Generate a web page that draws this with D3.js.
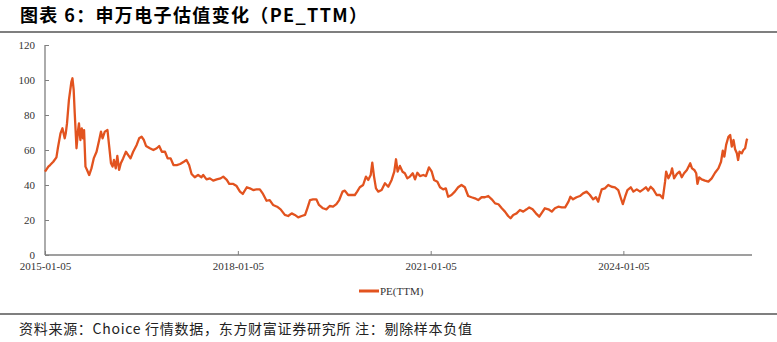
<!DOCTYPE html>
<html>
<head>
<meta charset="utf-8">
<script src="https://cdn.jsdelivr.net/npm/d3@7"></script>
<style>
  body { margin: 0; background: #fff; }
  svg { display: block; }
</style>
</head>
<body>
<svg id="chart" width="777" height="342"></svg>
<script>
const title = "图表 6：申万电子估值变化（PE_TTM）";
const source = "资料来源：Choice 行情数据，东方财富证券研究所 注：剔除样本负值";
const seriesName = "PE(TTM)";

const xTicks = ["2015-01-05", "2018-01-05", "2021-01-05", "2024-01-05"];
const yTicks = [0, 20, 40, 60, 80, 100, 120];

// dates / values
const dates = [
  "2015-01-05","2015-01-24","2015-02-03","2015-02-21","2015-03-11","2015-03-19","2015-04-03","2015-04-14",
  "2015-04-27","2015-05-03","2015-05-10","2015-05-21","2015-06-04","2015-06-10","2015-06-17","2015-06-23",
  "2015-07-03","2015-07-12","2015-07-17","2015-07-25","2015-08-02","2015-08-09","2015-08-15","2015-08-23",
  "2015-09-01","2015-09-13","2015-09-26","2015-10-09","2015-10-25","2015-11-09","2015-11-19","2015-11-28",
  "2015-12-11","2015-12-26","2016-01-05","2016-01-15","2016-01-24","2016-02-01","2016-02-11","2016-02-20",
  "2016-03-01","2016-03-11","2016-03-24","2016-04-09","2016-04-22","2016-05-05","2016-05-20","2016-06-09",
  "2016-06-23","2016-07-07","2016-07-20","2016-08-01","2016-08-23","2016-09-12","2016-10-01","2016-10-15",
  "2016-10-30","2016-11-17","2016-12-02","2016-12-19","2017-01-04","2017-01-23","2017-02-11","2017-03-04",
  "2017-03-19","2017-04-03","2017-04-17","2017-05-05","2017-05-24","2017-06-12","2017-06-22","2017-07-11",
  "2017-07-30","2017-08-18","2017-09-07","2017-09-29","2017-10-14","2017-11-03","2017-11-17","2017-12-10",
  "2017-12-29","2018-01-17","2018-02-02","2018-02-25","2018-03-14","2018-04-02","2018-04-21","2018-05-10",
  "2018-05-28","2018-06-17","2018-07-05","2018-07-24","2018-08-16","2018-09-05","2018-09-29","2018-10-18",
  "2018-11-07","2018-11-25","2018-12-14","2019-01-03","2019-01-22","2019-02-04","2019-02-19","2019-03-08",
  "2019-03-27","2019-04-11","2019-05-04","2019-05-23","2019-06-11","2019-06-30","2019-07-19","2019-08-04",
  "2019-08-23","2019-09-05","2019-09-24","2019-10-13","2019-11-01","2019-11-14","2019-11-29","2019-12-18",
  "2020-01-03","2020-01-16","2020-01-30","2020-02-08","2020-02-18","2020-02-29","2020-03-13","2020-04-01",
  "2020-04-20","2020-05-09","2020-05-28","2020-06-12","2020-06-22","2020-07-01","2020-07-14","2020-07-29",
  "2020-08-11","2020-08-25","2020-09-09","2020-09-25","2020-10-08","2020-10-21","2020-11-05","2020-11-24",
  "2020-12-09","2020-12-26","2021-01-11","2021-01-24","2021-02-12","2021-02-27","2021-03-17","2021-04-01",
  "2021-04-14","2021-05-03","2021-05-22","2021-06-10","2021-06-29","2021-07-18","2021-08-06","2021-08-25",
  "2021-09-13","2021-10-02","2021-10-21","2021-11-09","2021-11-28","2021-12-18","2022-01-06","2022-01-25",
  "2022-02-13","2022-03-03","2022-03-21","2022-04-04","2022-04-19","2022-05-08","2022-05-27","2022-06-15",
  "2022-07-04","2022-07-19","2022-08-07","2022-08-26","2022-09-14","2022-10-03","2022-10-16","2022-11-05",
  "2022-11-24","2022-12-12","2022-12-31","2023-01-20","2023-02-08","2023-02-27","2023-03-10","2023-03-25",
  "2023-04-14","2023-05-03","2023-05-21","2023-06-10","2023-06-29","2023-07-17","2023-08-02","2023-08-15",
  "2023-08-25","2023-09-04","2023-09-22","2023-10-11","2023-10-30","2023-11-18","2023-12-07","2023-12-20",
  "2024-01-02","2024-01-15","2024-01-28","2024-02-16","2024-03-02","2024-03-21","2024-04-09","2024-04-27",
  "2024-05-12","2024-05-25","2024-06-08","2024-06-23","2024-07-12","2024-07-31","2024-08-16","2024-08-29",
  "2024-09-04","2024-09-17","2024-10-01","2024-10-08","2024-10-19","2024-11-04","2024-11-19","2024-12-02",
  "2024-12-15","2024-12-31","2025-01-19","2025-01-29","2025-02-11","2025-02-22","2025-03-01","2025-03-11",
  "2025-03-25","2025-04-13","2025-05-02","2025-05-21","2025-06-09","2025-06-28","2025-07-13","2025-07-23",
  "2025-08-01","2025-08-11","2025-08-24","2025-09-03","2025-09-12","2025-09-22","2025-10-01","2025-10-11",
  "2025-10-18","2025-10-26","2025-11-08","2025-11-17","2025-11-27","2025-12-06","2025-12-09"
];
const pe = [
  47.6,50.5,51.4,53.3,55.8,61,69.5,72.4,
  66.7,69.5,75.2,88.6,99,101,94.3,81,
  61,71.4,75.2,65.7,72.4,66.7,71.4,50.5,
  48.6,45.7,49.5,55.2,59,65.7,70.5,66.7,
  70.5,71.4,61.9,52.4,50.5,54.3,49.5,56.6,
  48.6,52.4,55.2,59,57.1,55.2,59,62.9,
  66.7,67.6,65.7,62.3,61,60,61,62.3,
  59,59,55.2,55.2,51.4,51.4,52,53.3,
  54.3,51.4,46.3,44.4,45.7,44.4,45.7,43.2,
  43.8,42.5,43.2,43.8,44.8,42.9,40.6,40.6,
  39.4,36.2,34.9,38.7,38.1,37.1,37.5,37.5,
  34.9,31,31.4,28.6,27.6,26.1,22.9,22.3,
  23.8,22.9,21.5,22.3,22.9,26.7,31.4,31.8,
  31.8,28.6,26.7,26.1,28,27.6,29.1,31.4,
  36.2,36.8,34.3,34.3,34.3,36.2,38.7,40,
  44.8,42.9,45.7,52.8,44.8,38.1,36.2,37.1,
  41,39,42.9,47.6,54.7,47.6,50.9,47.6,
  46.7,43.8,44.8,46.7,43.2,47,45.1,45.7,
  45.1,50.1,47.6,42.9,41.9,38.7,37.5,38.1,
  33.3,34.3,36.2,38.7,40,38.7,33.7,33,
  32.4,31.4,33,33,33.7,31.8,29.5,29,
  26.7,24.8,22.3,21,22.9,23.8,25.7,24.8,
  26.1,27.2,26.1,23.8,21.9,24.8,26.7,26.1,
  24.8,26.7,27.6,27.2,27.2,30.5,33.3,31.8,
  33,33.7,35.2,36.2,34.3,31.8,33,30.5,
  34.3,37.5,38.1,40,39,38.7,37.1,33,
  29.1,33.3,37.1,38.7,36.2,37.5,36.2,37.5,
  38.7,36.8,39,37.5,34.3,34.3,32.4,41.9,
  47.6,43.8,46.7,49.5,43.8,46.3,47.6,44.4,
  46.7,48.6,52.4,49.5,48.6,46.7,40.6,44.4,
  43.2,42.5,41.9,43.8,47,49.5,53.3,59.6,
  56.2,62.9,67.6,68.6,61.9,65.7,60.4,58.1,
  54.3,59,58.1,60,61,65.7,66.5
];

const parse = d3.timeParse("%Y-%m-%d");
const data = dates.map((d, i) => ({ date: parse(d), value: pe[i] }));

const svg = d3.select("#chart");
const margin = { top: 45, right: 25, bottom: 87, left: 45 };
const W = 777, H = 342;

const x = d3.scaleTime()
  .domain([parse("2015-01-05"), parse("2026-01-05")])
  .range([margin.left, W - margin.right]);
const y = d3.scaleLinear()
  .domain([0, 120])
  .range([H - margin.bottom, margin.top]);

// title + rules
svg.append("text")
  .attr("x", 20).attr("y", 22)
  .attr("font-family", "'Noto Sans CJK SC', sans-serif")
  .attr("font-size", 18).attr("font-weight", "bold")
  .attr("fill", "#000")
  .attr("textLength", 347).attr("lengthAdjust", "spacing")
  .text(title);
svg.append("line").attr("x1", 0).attr("x2", W).attr("y1", 32).attr("y2", 32)
  .attr("stroke", "#7f7f7f").attr("stroke-width", 2);
svg.append("line").attr("x1", 0).attr("x2", W).attr("y1", 314).attr("y2", 314)
  .attr("stroke", "#7f7f7f").attr("stroke-width", 2);
svg.append("text")
  .attr("x", 19).attr("y", 334)
  .attr("font-family", "'Noto Sans CJK SC', sans-serif")
  .attr("font-size", 14).attr("fill", "#222")
  .attr("textLength", 453).attr("lengthAdjust", "spacing")
  .text(source);

// axes
const yAxis = svg.append("g")
  .attr("class", "y-axis")
  .attr("transform", `translate(${margin.left},0)`)
  .call(d3.axisRight(y).tickValues(yTicks).tickSize(4).tickFormat(d3.format("d")));
yAxis.selectAll("text").attr("x", -10).attr("text-anchor", "end");

const xAxis = svg.append("g")
  .attr("class", "x-axis")
  .attr("transform", `translate(0,${H - margin.bottom})`)
  .call(d3.axisTop(x).tickValues(xTicks.map(parse)).tickSize(4).tickFormat(d3.timeFormat("%Y-%m-%d")));
xAxis.selectAll("text").attr("y", 15).attr("dy", "0");

// plain axis lines, no end caps
xAxis.select(".domain").attr("d", `M${margin.left},0H${W - margin.right}`);
yAxis.select(".domain").attr("d", `M0,${margin.top}V${H - margin.bottom}`);
svg.selectAll(".domain").attr("stroke", "#7f7f7f").attr("stroke-width", 1.3);
svg.selectAll(".tick line").attr("stroke", "#7f7f7f");
svg.selectAll(".tick text")
  .attr("font-family", "'Liberation Serif', 'Times New Roman', serif")
  .attr("font-size", 11).attr("fill", "#333");

// line
const line = d3.line().x(d => x(d.date)).y(d => y(d.value));
svg.append("path")
  .datum(data)
  .attr("fill", "none")
  .attr("stroke", "#E2531F")
  .attr("stroke-width", 2.3)
  .attr("stroke-linejoin", "round")
  .attr("d", line);

// legend
const lg = svg.append("g").attr("transform", "translate(359,291)");
lg.append("line").attr("x1", 0).attr("x2", 20).attr("y1", 0).attr("y2", 0)
  .attr("stroke", "#E2531F").attr("stroke-width", 3);
lg.append("text").attr("x", 21).attr("y", 4)
  .attr("font-family", "'Liberation Serif', 'Times New Roman', serif")
  .attr("font-size", 11).attr("fill", "#333")
  .text(seriesName);
</script>
</body>
</html>
